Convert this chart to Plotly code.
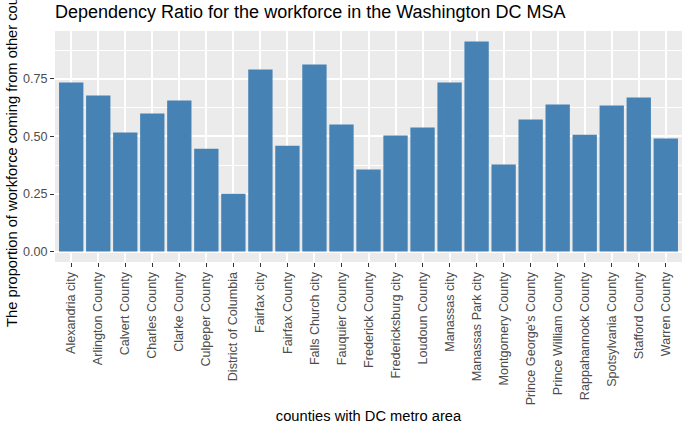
import plotly.graph_objects as go

counties = [
    "Alexandria city", "Arlington County", "Calvert County", "Charles County",
    "Clarke County", "Culpeper County", "District of Columbia", "Fairfax city",
    "Fairfax County", "Falls Church city", "Fauquier County", "Frederick County",
    "Fredericksburg city", "Loudoun County", "Manassas city", "Manassas Park city",
    "Montgomery County", "Prince George's County", "Prince William County",
    "Rappahannock County", "Spotsylvania County", "Stafford County", "Warren County",
]
ratios = [
    0.735, 0.678, 0.517, 0.600, 0.656, 0.447, 0.251, 0.791,
    0.460, 0.813, 0.552, 0.356, 0.504, 0.539, 0.735, 0.913,
    0.378, 0.574, 0.639, 0.508, 0.635, 0.669, 0.491,
]
y_ticks = [0.0, 0.25, 0.5, 0.75]
y_tick_labels = ["0.00", "0.25", "0.50", "0.75"]

n = len(counties)
ymax = max(ratios)
pad = 0.05 * ymax

fig = go.Figure(go.Bar(
    x=list(range(n)), y=ratios,
    marker=dict(color="#4682B4", line=dict(width=0)),
    width=0.9,
))

font_family = "Liberation Sans, Arial, sans-serif"
fig.update_layout(
    width=690, height=424,
    margin=dict(l=55, r=8, t=31, b=162, autoexpand=False),
    paper_bgcolor="white",
    plot_bgcolor="#EBEBEB",
    font=dict(family=font_family, color="black"),
    showlegend=False,
    title=dict(
        text="Dependency Ratio for the workforce in the Washington DC MSA",
        x=0, xref="paper", xanchor="left",
        y=1, yref="container", yanchor="top", pad=dict(t=5),
        font=dict(size=18, color="black", family=font_family),
    ),
)
fig.update_xaxes(
    range=[-0.6, n - 1 + 0.6],
    tickmode="array", tickvals=list(range(n)), ticktext=counties,
    tickangle=-90,
    tickfont=dict(size=12.6, color="#4D4D4D"),
    ticks="outside", ticklen=4, tickcolor="#333333", tickwidth=1,
    showgrid=True, gridcolor="white", gridwidth=1.5,
    zeroline=False, showline=False, automargin=True,
    title=dict(text="counties with DC metro area", font=dict(size=14.7, color="black"), standoff=6),
)
fig.update_yaxes(
    range=[-pad, ymax + pad],
    tickmode="array", tickvals=y_ticks, ticktext=y_tick_labels,
    tickfont=dict(size=12.6, color="#4D4D4D"),
    ticks="outside", ticklen=4, tickcolor="#333333", tickwidth=1,
    showgrid=True, gridcolor="white", gridwidth=1.5,
    minor=dict(tick0=0.125, dtick=0.25, showgrid=True, gridcolor="white", gridwidth=0.7, ticks=""),
    zeroline=False, showline=False, automargin=False,
    title=dict(text="The proportion of workforce coming from other counties",
               font=dict(size=14.7, color="black"), standoff=1),
)

fig.write_html("out.html")
